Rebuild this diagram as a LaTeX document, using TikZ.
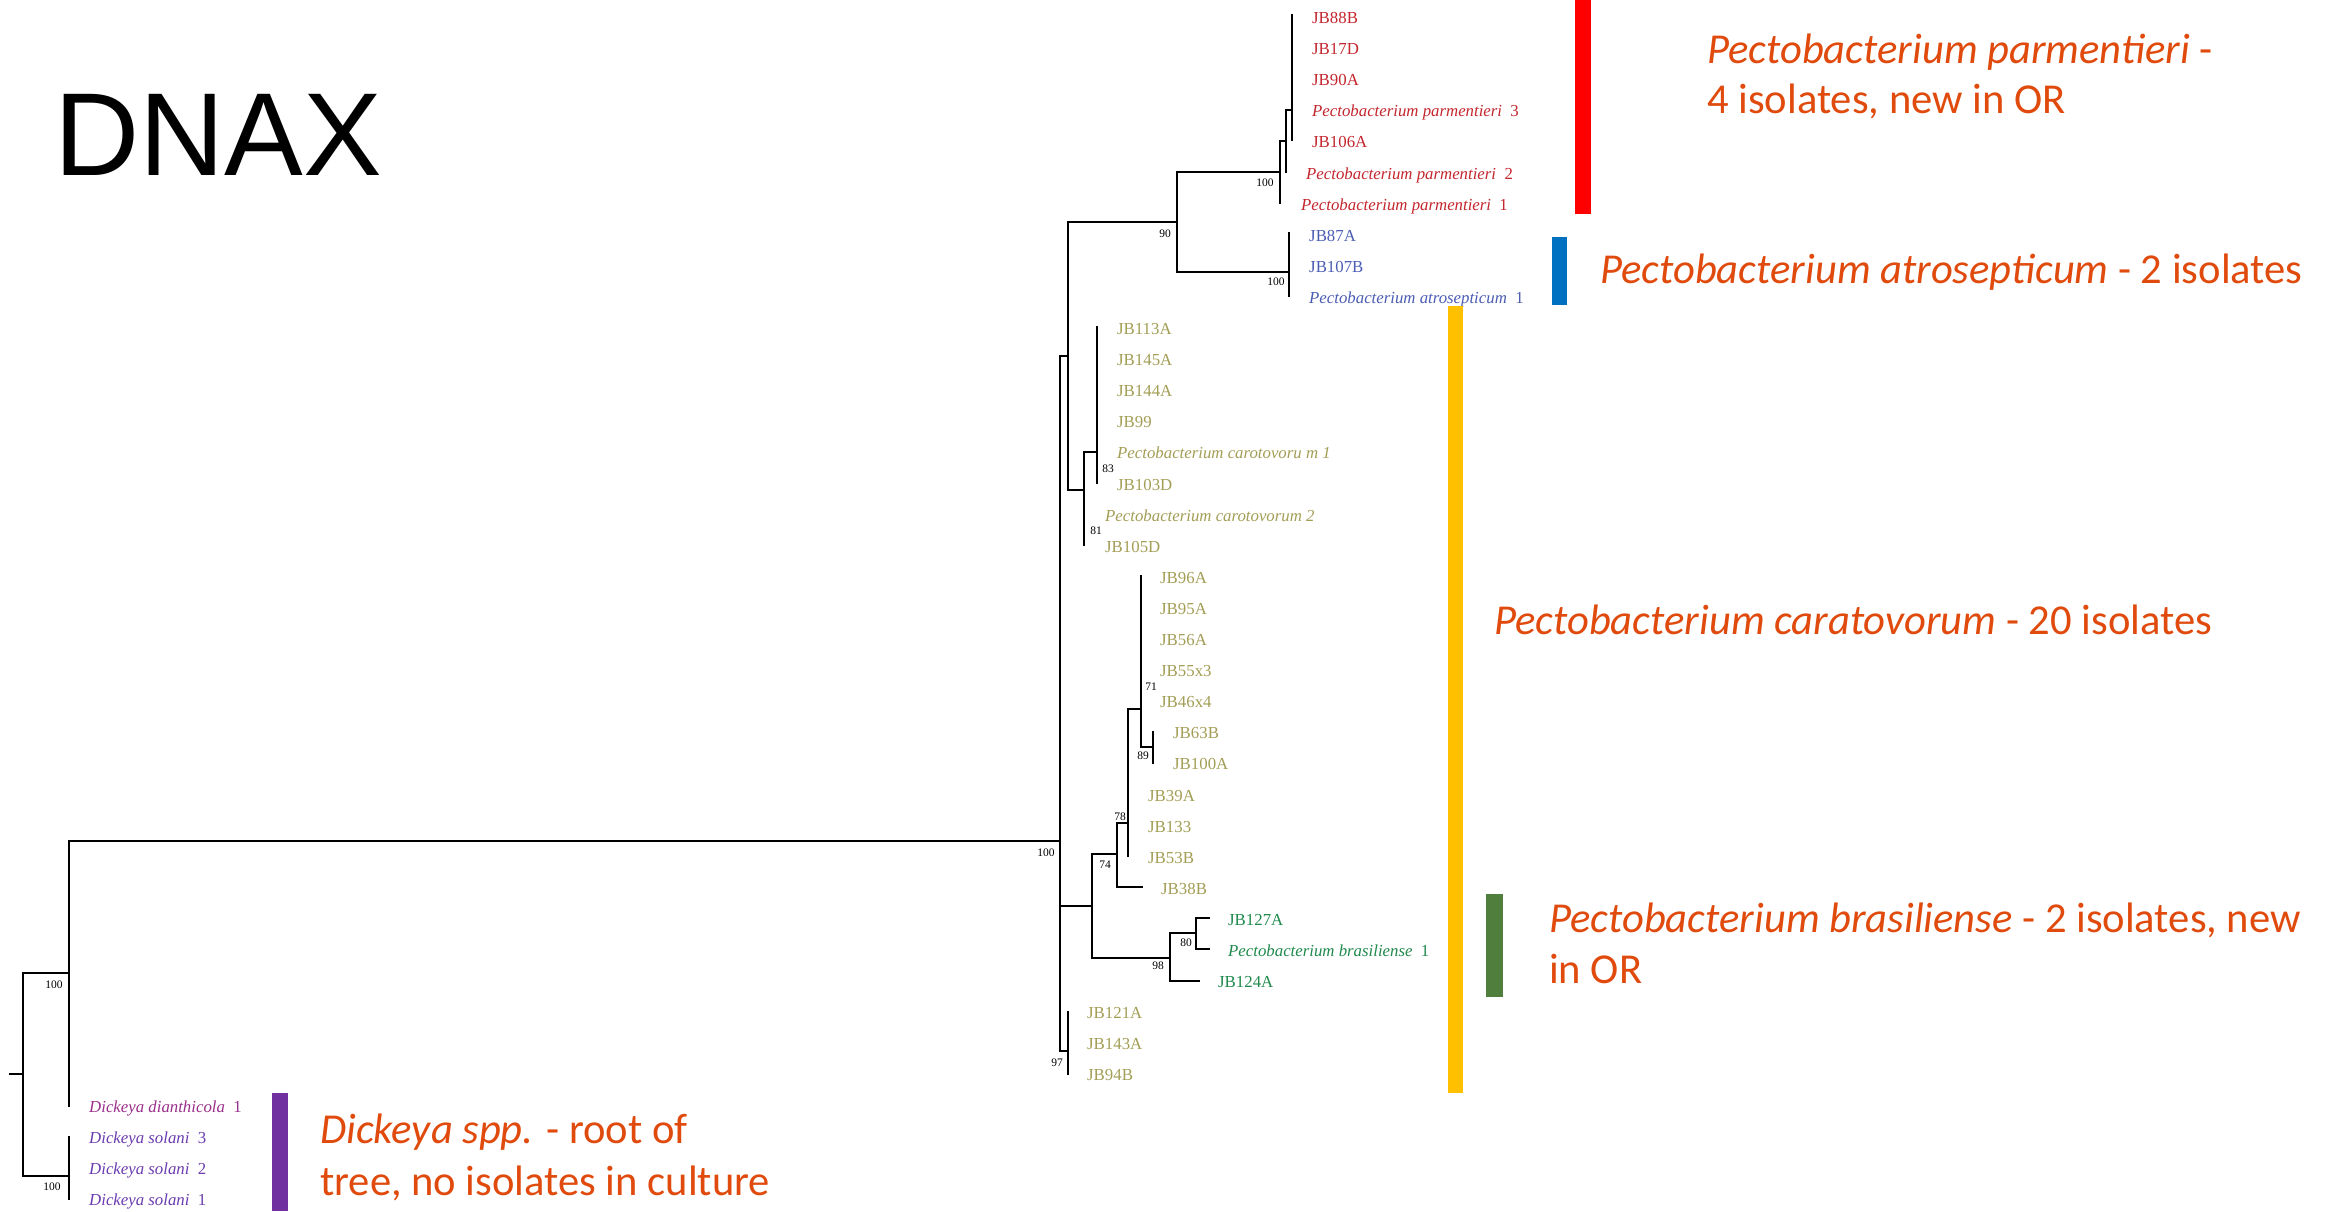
\documentclass[tikz,border=0pt]{standalone}
\usepackage{fontspec}
\setmainfont{Liberation Serif}
\newfontfamily\calib{Carlito}
\newfontfamily\arialf{Liberation Sans}
\definecolor{parm}{HTML}{C4262E}
\definecolor{atro}{HTML}{4B5DB4}
\definecolor{caro}{HTML}{A39E55}
\definecolor{bras}{HTML}{1F8A4C}
\definecolor{dian}{HTML}{9B2F8C}
\definecolor{sola}{HTML}{6B3CB0}
\definecolor{note}{HTML}{E04A0C}
\definecolor{barred}{HTML}{FF0000}
\definecolor{barblue}{HTML}{0070C0}
\definecolor{baryel}{HTML}{FFC000}
\definecolor{bargrn}{HTML}{507E3C}
\definecolor{barpur}{HTML}{7030A0}
\newcommand\vspan[4]{\coordinate (#1t) at (#2,#3); \coordinate (#1b) at (#2,#4); \draw[br] (#1t) -- (#1b);}
\newcommand\leaf[5]{\node[lf,text=#4] (#1) at (#2,{17+31.1*#3+6.5}) {#5};}
\begin{document}
\begin{tikzpicture}[x=1pt,y=-1pt,
  br/.style={line width=2pt,line cap=rect,black},
  lf/.style={anchor=base west,inner sep=0pt,font=\fontsize{16.8}{19}\selectfont},
  bs/.style={inner sep=0pt,font=\fontsize{11.5}{13}\selectfont},
  big/.style={anchor=base west,inner sep=0pt,text=note,font=\calib\fontsize{42.6}{50}\selectfont}]
\useasboundingbox (0,0) rectangle (2335,1211);
\fill[white] (0,0) rectangle (2335,1211);

% title
\node[anchor=base west,inner sep=0pt,font=\arialf\fontsize{118}{130}\selectfont] (title) at (54,175) {DNAX};

% ---- tree: internal nodes (vertical spans) ----
\coordinate (stub) at (10,1074);
\vspan{nR}{23}{973}{1176}   \coordinate (nRc) at (23,1074);
\vspan{nI}{69}{841}{1106}   \coordinate (nIc) at (69,973);
\vspan{nS}{69}{1137}{1199}  \coordinate (nSc) at (69,1176);
\vspan{nP}{1060}{356}{1051} \coordinate (nPc) at (1060,841);
\vspan{nT}{1068}{222}{490}  \coordinate (nTc) at (1068,356);
\vspan{nN}{1177}{172}{272}  \coordinate (nNc) at (1177,222);
\vspan{nPa}{1280}{141}{203} \coordinate (nPac) at (1280,172);
\vspan{nPb}{1286}{110}{172} \coordinate (nPbc) at (1286,141);
\vspan{nPd}{1292}{15}{140}  \coordinate (nPdc) at (1292,110);
\vspan{nAt}{1289}{233}{296} \coordinate (nAtc) at (1289,272);
\vspan{nE}{1084}{452}{545}  \coordinate (nEc) at (1084,490);
\vspan{nF}{1097}{327}{483}  \coordinate (nFc) at (1097,452);
\vspan{nG}{1092}{854}{958}  \coordinate (nGc) at (1092,906);
\vspan{nH}{1117}{823}{887}  \coordinate (nHc) at (1117,854);
\coordinate (tipA) at (1142,887);
\vspan{nJ}{1128}{709}{856}  \coordinate (nJc) at (1128,823);
\vspan{nK}{1141}{576}{747}  \coordinate (nKc) at (1141,709);
\vspan{nL}{1153}{732}{763}  \coordinate (nLc) at (1153,747);
\vspan{nM}{1170}{933}{981}  \coordinate (nMc) at (1170,958);
\coordinate (tipB) at (1199,981);
\vspan{nQ}{1196}{918}{949}  \coordinate (nQc) at (1196,933);
\coordinate (tipC) at (1209,918);
\coordinate (tipD) at (1209,949);
\vspan{nU}{1068}{1012}{1074} \coordinate (nUc) at (1068,1051);

% ---- horizontal branches ----
\draw[br] (stub) -- (nRc);
\draw[br] (nRt |- nIc) -- (nIc);
\draw[br] (nRt |- nSc) -- (nSc);
\draw[br] (nIt |- nPc) -- (nPc);
\draw[br] (nPt |- nTc) -- (nTc);
\draw[br] (nTt |- nNc) -- (nNc);
\draw[br] (nNt |- nPac) -- (nPac);
\draw[br] (nPat |- nPbc) -- (nPbc);
\draw[br] (nPbt |- nPdc) -- (nPdc);
\draw[br] (nNt |- nAtc) -- (nAtc);
\draw[br] (nTt |- nEc) -- (nEc);
\draw[br] (nEt |- nFc) -- (nFc);
\draw[br] (nPt |- nGc) -- (nGc);
\draw[br] (nGt |- nHc) -- (nHc);
\draw[br] (nHt |- tipA) -- (tipA);
\draw[br] (nHt |- nJc) -- (nJc);
\draw[br] (nJt |- nKc) -- (nKc);
\draw[br] (nKt |- nLc) -- (nLc);
\draw[br] (nGt |- nMc) -- (nMc);
\draw[br] (nMt |- tipB) -- (tipB);
\draw[br] (nMt |- nQc) -- (nQc);
\draw[br] (nQt |- tipC) -- (tipC);
\draw[br] (nQt |- tipD) -- (tipD);
\draw[br] (nPt |- nUc) -- (nUc);

% ---- bootstrap values ----
\node[bs] (b1) at (54,985) {100};
\node[bs] (b2) at (52,1187) {100};
\node[bs] (b3) at (1046,853) {100};
\node[bs] (b4) at (1165,234) {90};
\node[bs] (b5) at (1265,183) {100};
\node[bs] (b6) at (1276,282) {100};
\node[bs] (b7) at (1108,469) {83};
\node[bs] (b8) at (1096,531) {81};
\node[bs] (b9) at (1151,687) {71};
\node[bs] (b10) at (1143,756) {89};
\node[bs] (b11) at (1120,817) {78};
\node[bs] (b12) at (1105,865) {74};
\node[bs] (b13) at (1186,943) {80};
\node[bs] (b14) at (1158,966) {98};
\node[bs] (b15) at (1057,1063) {97};

% ---- leaves ----
\leaf{l0}{1312}{0}{parm}{JB88B}
\leaf{l1}{1312}{1}{parm}{JB17D}
\leaf{l2}{1312}{2}{parm}{JB90A}
\leaf{l3}{1312}{3}{parm}{\textit{Pectobacterium parmentieri}\ \ 3}
\leaf{l4}{1312}{4}{parm}{JB106A}
\leaf{l5}{1306}{5}{parm}{\textit{Pectobacterium parmentieri}\ \ 2}
\leaf{l6}{1301}{6}{parm}{\textit{Pectobacterium parmentieri}\ \ 1}
\leaf{l7}{1309}{7}{atro}{JB87A}
\leaf{l8}{1309}{8}{atro}{JB107B}
\leaf{l9}{1309}{9}{atro}{\textit{Pectobacterium atrosepticum}\ \ 1}
\leaf{l10}{1117}{10}{caro}{JB113A}
\leaf{l11}{1117}{11}{caro}{JB145A}
\leaf{l12}{1117}{12}{caro}{JB144A}
\leaf{l13}{1117}{13}{caro}{JB99}
\leaf{l14}{1117}{14}{caro}{\textit{Pectobacterium carotovoru m 1}}
\leaf{l15}{1117}{15}{caro}{JB103D}
\leaf{l16}{1105}{16}{caro}{\textit{Pectobacterium carotovorum 2}}
\leaf{l17}{1105}{17}{caro}{JB105D}
\leaf{l18}{1160}{18}{caro}{JB96A}
\leaf{l19}{1160}{19}{caro}{JB95A}
\leaf{l20}{1160}{20}{caro}{JB56A}
\leaf{l21}{1160}{21}{caro}{JB55x3}
\leaf{l22}{1160}{22}{caro}{JB46x4}
\leaf{l23}{1173}{23}{caro}{JB63B}
\leaf{l24}{1173}{24}{caro}{JB100A}
\leaf{l25}{1148}{25}{caro}{JB39A}
\leaf{l26}{1148}{26}{caro}{JB133}
\leaf{l27}{1148}{27}{caro}{JB53B}
\leaf{l28}{1161}{28}{caro}{JB38B}
\leaf{l29}{1228}{29}{bras}{JB127A}
\leaf{l30}{1228}{30}{bras}{\textit{Pectobacterium brasiliense}\ \ 1}
\leaf{l31}{1218}{31}{bras}{JB124A}
\leaf{l32}{1087}{32}{caro}{JB121A}
\leaf{l33}{1087}{33}{caro}{JB143A}
\leaf{l34}{1087}{34}{caro}{JB94B}
\leaf{l35}{89}{35}{dian}{\textit{Dickeya dianthicola}\ \ 1}
\leaf{l36}{89}{36}{sola}{\textit{Dickeya solani}\ \ 3}
\leaf{l37}{89}{37}{sola}{\textit{Dickeya solani}\ \ 2}
\leaf{l38}{89}{38}{sola}{\textit{Dickeya solani}\ \ 1}

% ---- group bars ----
\fill[barred]  (1575,0) rectangle (1591,214);
\fill[barblue] (1552,237) rectangle (1567,305);
\fill[baryel]  (1448,306) rectangle (1463,1093);
\fill[bargrn]  (1486,894) rectangle (1503,997);
\fill[barpur]  (272,1093) rectangle (288,1211);

% ---- annotations ----
\node[big] (t1a) at (1707,63) {\textit{Pectobacterium parmentieri} -};
\node[big] (t1b) at (1707,113) {4 isolates, new in OR};
\node[big] (t2) at (1600,283) {\textit{Pectobacterium atrosepticum} - 2 isolates};
\node[big] (t3) at (1494,634) {\textit{Pectobacterium caratovorum} - 20 isolates};
\node[big] (t4a) at (1549,932) {\textit{Pectobacterium brasiliense} - 2 isolates, new};
\node[big] (t4b) at (1549,983) {in OR};
\node[big] (t5a) at (320,1143) {\textit{Dickeya spp.} - root of};
\node[big] (t5b) at (320,1195) {tree, no isolates in culture};
\end{tikzpicture}
\end{document}
